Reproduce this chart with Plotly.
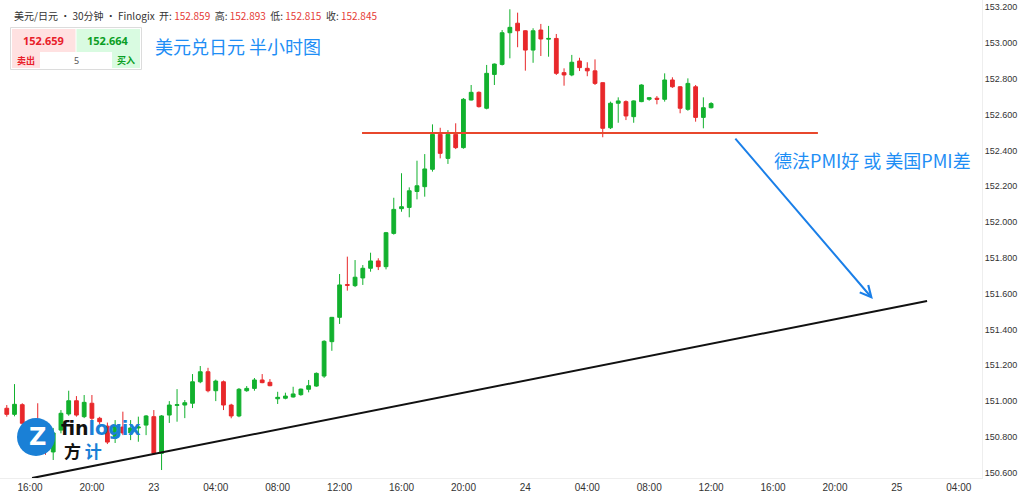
import pandas as pd
import plotly.graph_objects as go

# ---------------- data ----------------
times = pd.date_range("2024-10-22 14:30", periods=92, freq="30min")

opens = [150.960, 150.926, 150.980, 150.876, 150.850, 150.790, 150.716, 150.838, 150.928, 151.002,
         150.913, 150.988, 150.904, 150.860, 150.794, 150.855, 150.822, 150.850, 150.866, 150.913,
         150.708, 150.922, 150.976, 150.978, 150.988, 151.108, 151.164, 151.058, 151.108, 150.978,
         150.917, 151.058, 151.071, 151.118, 151.105, 151.013, 151.016, 151.023, 151.036, 151.066,
         151.084, 151.140, 151.332, 151.468, 151.651, 151.645, 151.688, 151.742, 151.783, 151.751,
         151.937, 152.075, 152.082, 152.171, 152.198, 152.295, 152.490, 152.356, 152.490, 152.416,
         152.682, 152.725, 152.636, 152.825, 152.881, 153.058, 153.111, 153.069, 152.961, 153.073,
         153.022, 153.026, 152.835, 152.822, 152.900, 152.859, 152.845, 152.779, 152.527, 152.664,
         152.673, 152.589, 152.673, 152.686, 152.692, 152.686, 152.794, 152.756, 152.630, 152.756,
         152.585, 152.639]
highs = [150.978, 151.095, 150.988, 150.895, 150.988, 150.820, 150.850, 150.950, 151.058, 151.028,
         151.034, 151.034, 150.912, 150.880, 150.894, 150.941, 150.894, 150.913, 150.922, 150.950,
         150.922, 151.000, 151.067, 151.006, 151.151, 151.196, 151.186, 151.120, 151.115, 150.985,
         151.073, 151.084, 151.129, 151.151, 151.123, 151.052, 151.047, 151.080, 151.070, 151.118,
         151.160, 151.340, 151.470, 151.710, 151.807, 151.788, 151.760, 151.829, 151.798, 151.945,
         152.136, 152.273, 152.194, 152.343, 152.380, 152.546, 152.527, 152.514, 152.552, 152.693,
         152.766, 152.730, 152.878, 152.886, 153.073, 153.189, 153.170, 153.072, 153.083, 153.107,
         153.096, 153.051, 152.859, 152.934, 152.918, 152.893, 152.909, 152.780, 152.673, 152.697,
         152.680, 152.680, 152.770, 152.697, 152.704, 152.831, 152.809, 152.760, 152.803, 152.766,
         152.697, 152.670]
lows = [150.913, 150.915, 150.866, 150.820, 150.780, 150.700, 150.671, 150.820, 150.918, 150.913,
        150.905, 150.894, 150.872, 150.760, 150.766, 150.810, 150.782, 150.773, 150.810, 150.699,
        150.615, 150.878, 150.885, 150.905, 150.961, 151.100, 151.049, 151.000, 150.950, 150.904,
        150.910, 151.052, 151.058, 151.100, 151.083, 150.984, 151.010, 151.020, 151.030, 151.049,
        151.080, 151.130, 151.281, 151.431, 151.617, 151.637, 151.649, 151.723, 151.732, 151.736,
        151.930, 152.058, 152.027, 152.127, 152.142, 152.282, 152.356, 152.325, 152.408, 152.410,
        152.680, 152.640, 152.630, 152.766, 152.875, 152.915, 152.977, 152.846, 152.890, 152.928,
        152.924, 152.822, 152.762, 152.815, 152.844, 152.815, 152.766, 152.474, 152.520, 152.555,
        152.570, 152.555, 152.670, 152.678, 152.658, 152.673, 152.750, 152.608, 152.622, 152.561,
        152.524, 152.635]
closes = [150.926, 150.982, 150.876, 150.850, 150.790, 150.720, 150.822, 150.932, 151.002, 150.922,
          150.993, 150.904, 150.885, 150.771, 150.861, 150.822, 150.850, 150.855, 150.917, 150.708,
          150.917, 150.978, 150.980, 150.991, 151.108, 151.164, 151.058, 151.112, 150.978, 150.917,
          151.066, 151.071, 151.118, 151.103, 151.086, 151.021, 151.028, 151.040, 151.067, 151.086,
          151.155, 151.334, 151.468, 151.649, 151.647, 151.692, 151.742, 151.783, 151.751, 151.941,
          152.071, 152.086, 152.175, 152.203, 152.297, 152.490, 152.384, 152.490, 152.416, 152.686,
          152.725, 152.645, 152.831, 152.883, 153.058, 153.088, 153.069, 152.961, 153.069, 153.023,
          153.026, 152.831, 152.822, 152.893, 152.863, 152.845, 152.775, 152.524, 152.664, 152.677,
          152.593, 152.677, 152.766, 152.695, 152.686, 152.794, 152.756, 152.636, 152.775, 152.585,
          152.639, 152.662]

ytick_vals = [150.6, 150.8, 151.0, 151.2, 151.4, 151.6, 151.8, 152.0, 152.2, 152.4, 152.6, 152.8, 153.0, 153.2]
ytick_text = ["%.3f" % v for v in ytick_vals]
xtick_vals = pd.date_range("2024-10-22 16:00", "2024-10-25 04:00", freq="4h")
xtick_text = ["16:00", "20:00", "23", "04:00", "08:00", "12:00", "16:00", "20:00", "24",
              "04:00", "08:00", "12:00", "16:00", "20:00", "25", "04:00"]

header_ohlc = ["152.859", "152.893", "152.815", "152.845"]
bid, ask, lot = "152.659", "152.664", "5"

# drawn lines (time, price)
resist_t = ["2024-10-23 13:27", "2024-10-24 18:54"]
resist_p = 152.498
trend_t = ["2024-10-22 16:08", "2024-10-25 01:57"]
trend_p = [150.570, 151.559]
arrow_t = ["2024-10-24 13:29", "2024-10-24 22:27"]
arrow_p = [152.475, 151.570]

# ---------------- figure ----------------
GREEN = "#12b12e"
RED = "#e8282b"
BLUE = "#1e8ef5"

fig = go.Figure()
fig.add_trace(go.Candlestick(
    x=times, open=opens, high=highs, low=lows, close=closes,
    increasing=dict(line=dict(color=GREEN, width=1), fillcolor=GREEN),
    decreasing=dict(line=dict(color=RED, width=1), fillcolor=RED),
    whiskerwidth=0, hoverinfo="skip", showlegend=False))

PW, PH = 982, 478
def X(px):
    return px / PW
def Y(py):
    return 1 - py / PH

shapes = []
shapes.append(dict(type="line", xref="x", yref="y", x0=resist_t[0], x1=resist_t[1],
                   y0=resist_p, y1=resist_p, line=dict(color="#e8472c", width=2), layer="above"))
shapes.append(dict(type="line", xref="x", yref="y", x0=trend_t[0], x1=trend_t[1],
                   y0=trend_p[0], y1=trend_p[1], line=dict(color="#111111", width=2), layer="above"))

# price box
shapes.append(dict(type="rect", xref="paper", yref="paper", x0=X(10.5), x1=X(141.5), y0=Y(69.5), y1=Y(27.5),
                   line=dict(color="#dcdcdc", width=1), fillcolor="white", layer="above"))
shapes.append(dict(type="rect", xref="paper", yref="paper", x0=X(12), x1=X(75.5), y0=Y(52), y1=Y(29),
                   line=dict(width=0), fillcolor="#ffe1e1", layer="above"))
shapes.append(dict(type="rect", xref="paper", yref="paper", x0=X(76.5), x1=X(140), y0=Y(52), y1=Y(29),
                   line=dict(width=0), fillcolor="#d9fbe1", layer="above"))
shapes.append(dict(type="rect", xref="paper", yref="paper", x0=X(12), x1=X(40), y0=Y(68), y1=Y(52),
                   line=dict(width=0), fillcolor="#ffe1e1", layer="above"))
shapes.append(dict(type="rect", xref="paper", yref="paper", x0=X(112), x1=X(140), y0=Y(68), y1=Y(52),
                   line=dict(width=0), fillcolor="#d9fbe1", layer="above"))
# logo circle
shapes.append(dict(type="circle", xref="paper", yref="paper", x0=X(17), x1=X(55), y0=Y(456), y1=Y(418),
                   line=dict(width=0), fillcolor="#1a80d6", layer="above"))

CJK = "Noto Sans CJK SC"

def note(px, py, text, font, xanchor="center"):
    return dict(xref="paper", yref="paper", x=X(px), y=Y(py), xanchor=xanchor, yanchor="middle",
                showarrow=False, text=text, font=font)

ann = []
ann.append(note(12, 16,
                ("美元/日元 • 30分钟 • Finlogix  开: <span style='color:#e53935'>%s</span>  "
                 "高: <span style='color:#e53935'>%s</span>  低: <span style='color:#e53935'>%s</span>  "
                 "收: <span style='color:#e53935'>%s</span>") % tuple(header_ohlc),
                dict(family=CJK, size=10, color="#333333"), xanchor="left"))
ann.append(note(43.5, 40, "<b>%s</b>" % bid, dict(family="Noto Sans", size=11, color="#e8202a")))
ann.append(note(108, 40, "<b>%s</b>" % ask, dict(family="Noto Sans", size=11, color="#0a9e25")))
ann.append(note(26, 60, "<b>卖出</b>", dict(family=CJK, size=9, color="#e8202a")))
ann.append(note(76, 60, lot, dict(family="Noto Sans", size=9, color="#555555")))
ann.append(note(126, 60, "<b>买入</b>", dict(family=CJK, size=9, color="#0a9e25")))
ann.append(note(153, 46, "美元兑日元 半小时图", dict(family=CJK, size=18, color=BLUE), xanchor="left"))
ann.append(note(872, 160, "德法PMI好 或 美国PMI差", dict(family=CJK, size=18, color=BLUE)))
# arrow
ann.append(dict(xref="x", yref="y", axref="x", ayref="y", x=arrow_t[1], y=arrow_p[1],
                ax=arrow_t[0], ay=arrow_p[0], text="", showarrow=True, arrowhead=5,
                arrowsize=1.1, arrowwidth=2, arrowcolor="#1a7fe8"))
# logo texts
ann.append(note(37, 437, "<b>Z</b>", dict(family="DejaVu Sans", size=24, color="white")))
ann.append(note(59, 428,
                "<b><span style='color:#111111'>fin</span><span style='color:#1a80d6'>logix</span></b>",
                dict(family="DejaVu Sans", size=19), xanchor="left"))
ann.append(note(62, 450,
                "<b><span style='color:#111111'>方</span> <span style='color:#1a80d6'>计</span></b>",
                dict(family=CJK, size=17), xanchor="left"))

fig.update_layout(
    width=1024, height=499,
    margin=dict(l=0, r=1024 - PW, t=0, b=499 - PH),
    paper_bgcolor="white", plot_bgcolor="white",
    shapes=shapes, annotations=ann,
    hovermode=False,
    xaxis=dict(type="date", range=["2024-10-22 14:03:45", "2024-10-25 05:30"],
               rangeslider=dict(visible=False), showgrid=False, zeroline=False,
               tickvals=xtick_vals, ticktext=xtick_text, ticks="",
               tickfont=dict(family="Liberation Sans Narrow, Liberation Sans, sans-serif", size=10, color="#333333"),
               showline=True, linecolor="#eeeeee", linewidth=1),
    yaxis=dict(side="right", range=[150.5704, 153.2408], showgrid=False, zeroline=False,
               tickvals=ytick_vals, ticktext=ytick_text, ticks="",
               tickfont=dict(family="Liberation Sans, sans-serif", size=9, color="#333333"),
               showline=True, linecolor="#eeeeee", linewidth=1),
)

fig.write_html("out.html")
